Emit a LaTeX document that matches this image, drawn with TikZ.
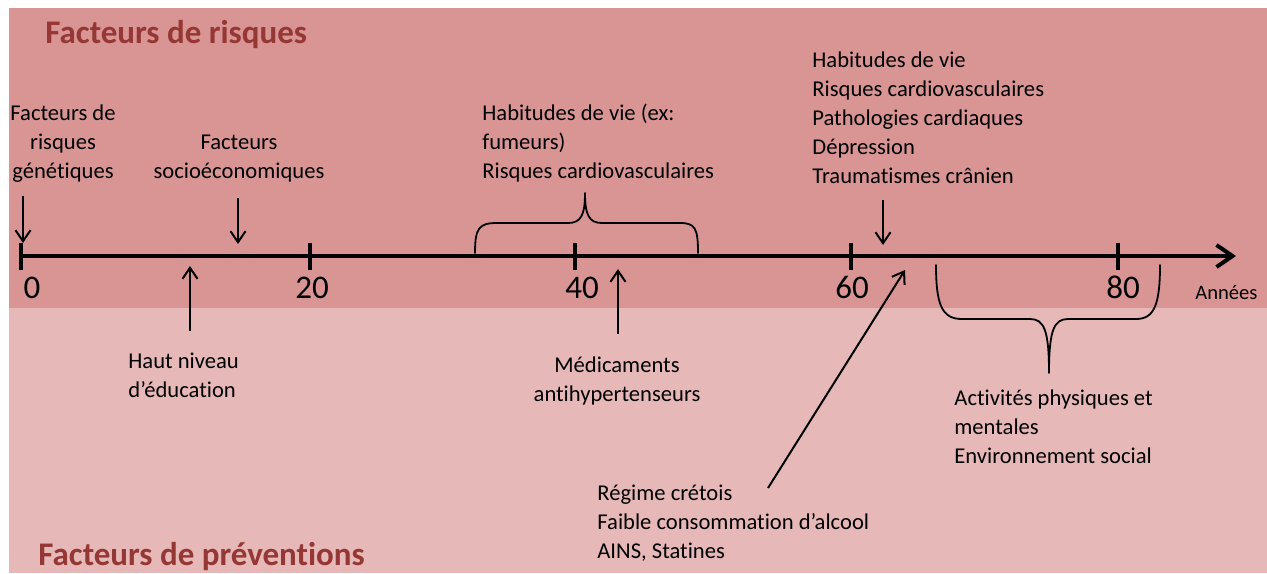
\documentclass[tikz,border=0pt]{standalone}
\usepackage{fontspec}
\setmainfont{Carlito}[Ligatures={TeX,NoCommon}]
\usetikzlibrary{arrows.meta}
\definecolor{topbg}{HTML}{D99594}
\definecolor{botbg}{HTML}{E6B8B7}
\definecolor{titlered}{HTML}{953735}
\begin{document}
\begin{tikzpicture}[x=0.5pt,y=-0.5pt,
  lbl/.style={inner sep=0pt, font=\fontsize{11.3}{14.5}\selectfont},
  ttl/.style={inner sep=0pt, anchor=base west, text=titlered, font=\fontsize{16.5}{20}\selectfont\bfseries},
  num/.style={inner sep=0pt, anchor=base, font=\fontsize{16.5}{20}\selectfont},
  arr/.style={line width=1pt, -{Straight Barb[length=5.5pt,width=7.5pt]}},
  axis/.style={line width=2pt, -{Straight Barb[length=8pt,width=11pt]}},
  tick/.style={line width=2pt},
  brace/.style={line width=0.9pt, line cap=round, line join=round}]
\useasboundingbox (0,0) rectangle (1267,573);
\fill[white] (0,0) rectangle (1267,573);
\fill[topbg] (9,8) rectangle (1267,308);
\fill[botbg] (9,308) rectangle (1267,573);

% titles
\node[ttl] (t1) at (45,43) {Facteurs de risques};
\node[ttl] (t2) at (38,565) {Facteurs de préventions};

% axis
\coordinate (a0) at (21,256);
\coordinate (aend) at (1236,256);
\draw[axis] (a0) -- (aend);
\foreach \n/\x in {0/21,20/310,40/575,60/851,80/1118}{
  \coordinate (tk\n) at (\x,256);
  \draw[tick] (tk\n) ++(0,-13) -- ++(0,27);
}
\node[num] (n0) at (32,298) {0};
\node[num] (n20) at (312,298) {20};
\node[num] (n40) at (582,298) {40};
\node[num] (n60) at (852,298) {60};
\node[num] (n80) at (1123,298) {80};
\node[inner sep=0pt, anchor=base west, font=\fontsize{10.3}{12}\selectfont] (ann) at (1195,299) {Années};

% texts
\node[lbl, anchor=north, align=center] (gen) at (63,99.7) {\strut Facteurs de\\risques\\génétiques};
\node[lbl, anchor=north, align=center] (socio) at (239,128.7) {\strut Facteurs\\socioéconomiques};
\node[lbl, anchor=north west, align=left] (hab1) at (482,99.7) {\strut Habitudes de vie (ex:\\fumeurs)\\Risques cardiovasculaires};
\node[lbl, anchor=north west, align=left] (hab2) at (812,46.7) {\strut Habitudes de vie\\Risques cardiovasculaires\\Pathologies cardiaques\\Dépression\\Traumatismes crânien};
\node[lbl, anchor=north west, align=left] (haut) at (128,347.7) {\strut Haut niveau\\d’éducation};
\node[lbl, anchor=north, align=center] (med) at (617,351.7) {\strut Médicaments\\antihypertenseurs};
\node[lbl, anchor=north west, align=left] (reg) at (597,479.7) {\strut Régime crétois\\Faible consommation d’alcool\\AINS, Statines};
\node[lbl, anchor=north west, align=left] (act) at (954,384.7) {\strut Activités physiques et\\mentales\\Environnement social};

% arrows
\coordinate (c1s) at (23,196); \coordinate (c1e) at (23,243);
\coordinate (c2s) at (238,198); \coordinate (c2e) at (238,244);
\coordinate (c3s) at (190,331); \coordinate (c3e) at (190,266);
\coordinate (c4s) at (618,334); \coordinate (c4e) at (618,269);
\coordinate (c5s) at (883,200); \coordinate (c5e) at (883,245);
\coordinate (c6s) at (768,488); \coordinate (c6e) at (905,270);
\draw[arr] (c1s) -- (c1e);
\draw[arr] (c2s) -- (c2e);
\draw[arr] (c3s) -- (c3e);
\draw[arr] (c4s) -- (c4e);
\draw[arr] (c5s) -- (c5e);
\draw[arr] (c6s) -- (c6e);

% braces
\draw[brace] (475,253) .. controls (475,228) and (479,223) .. (497,223) -- (568,223)
  .. controls (581,223) and (585,215) .. (585,193)
  .. controls (585,215) and (589,223) .. (602,223) -- (680,223)
  .. controls (695,223) and (698,228) .. (698,253);
\draw[brace] (936,265) .. controls (936,305) and (942,319) .. (962,319) -- (1030,319)
  .. controls (1044,319) and (1049,330) .. (1049,373)
  .. controls (1049,330) and (1054,319) .. (1068,319) -- (1136,319)
  .. controls (1154,319) and (1160,305) .. (1160,265);
\end{tikzpicture}
\end{document}
